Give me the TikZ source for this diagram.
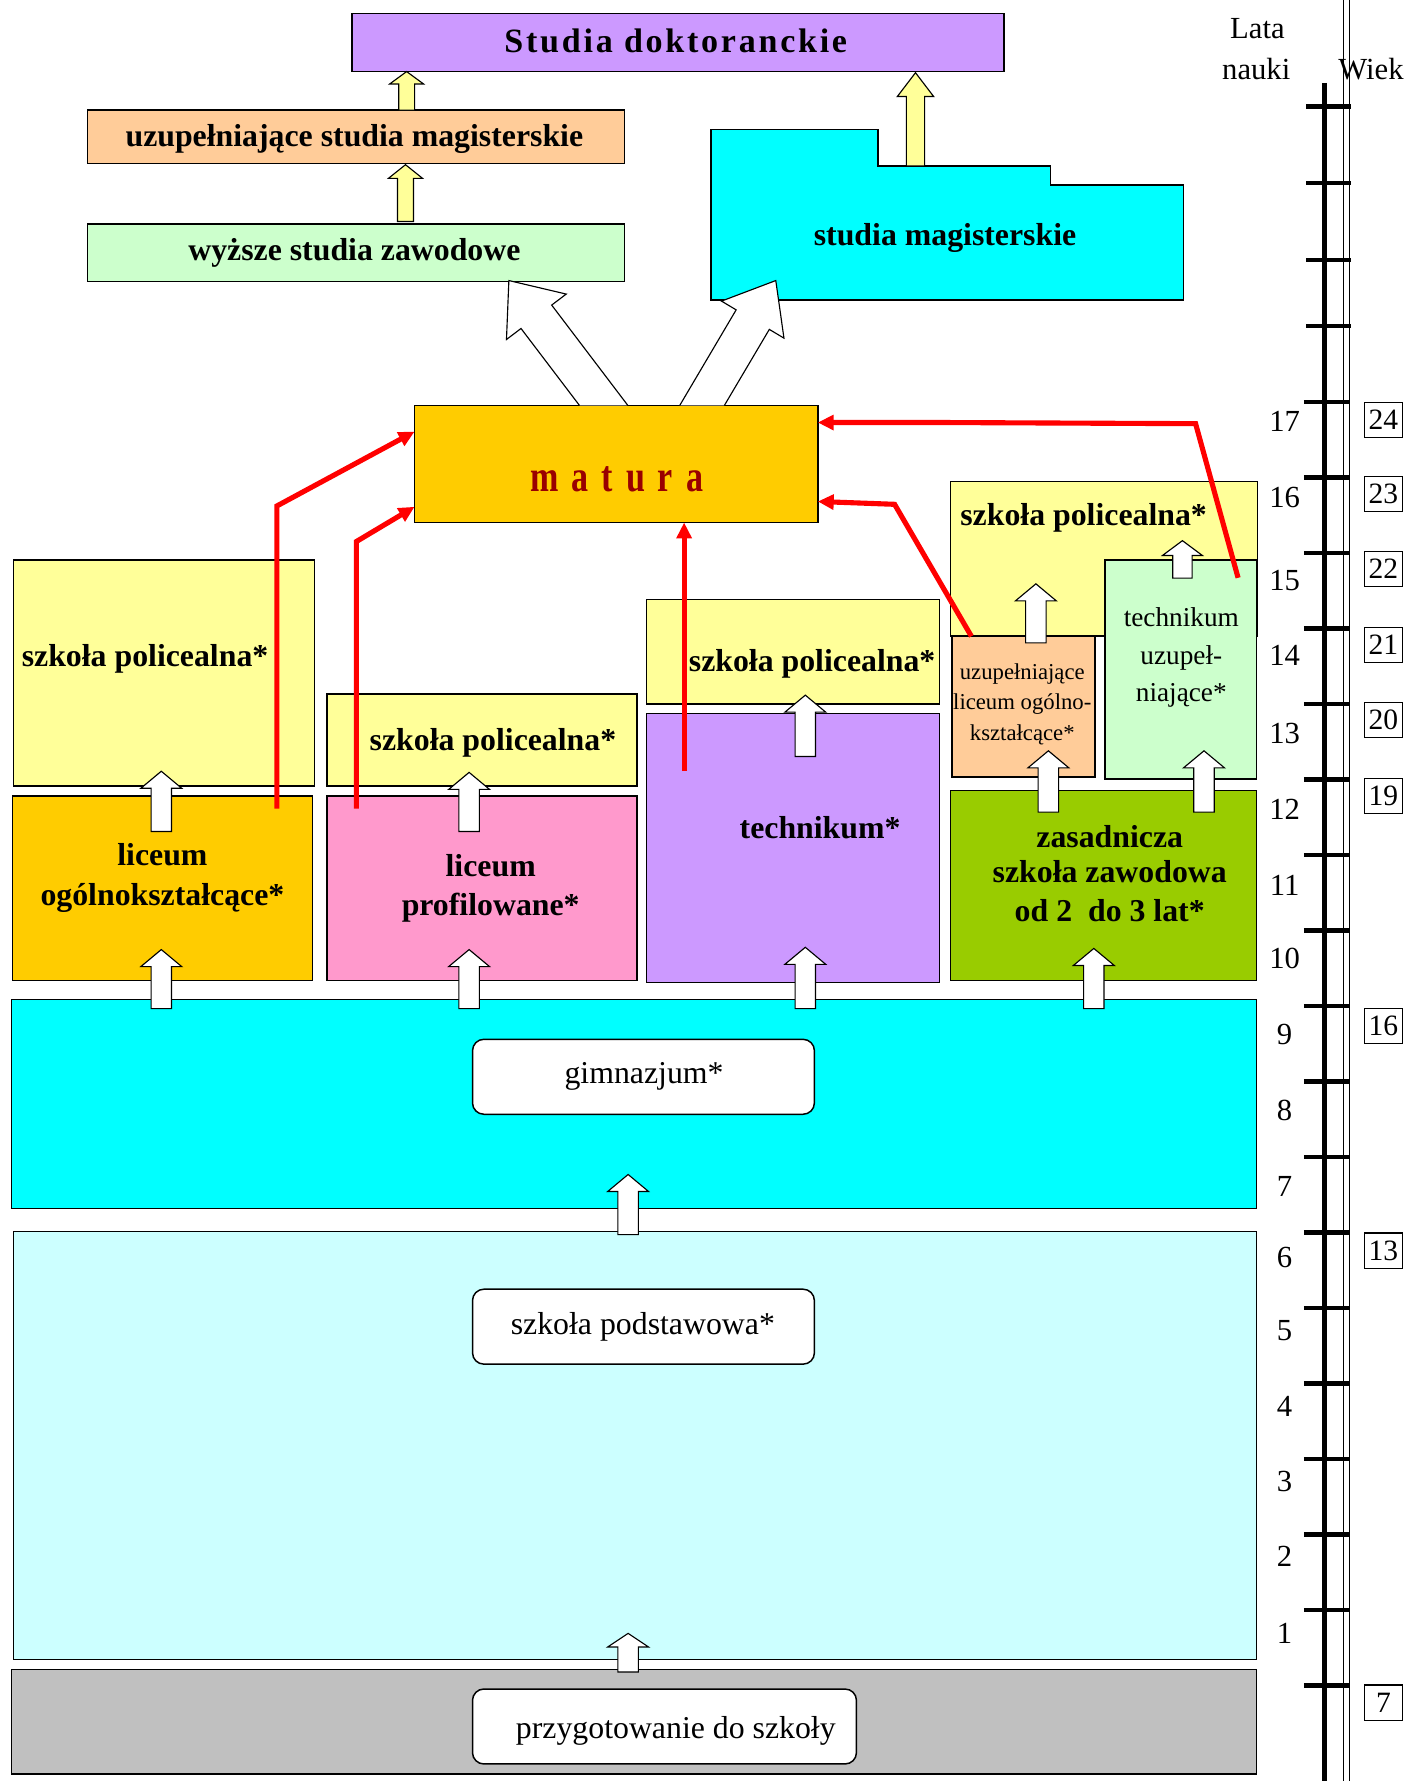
\documentclass[tikz,border=0pt]{standalone}
\usepackage{fontspec}
\usepackage{graphicx}
\setmainfont{Liberation Serif}
\usetikzlibrary{arrows.meta}
\definecolor{cLav}{HTML}{CC99FF}
\definecolor{cPeach}{HTML}{FFCC99}
\definecolor{cMint}{HTML}{CCFFCC}
\definecolor{cCyan}{HTML}{00FFFF}
\definecolor{cGold}{HTML}{FFCC00}
\definecolor{cLtYel}{HTML}{FFFF99}
\definecolor{cPink}{HTML}{FF99CC}
\definecolor{cOlive}{HTML}{99CC00}
\definecolor{cLtCyan}{HTML}{CCFFFF}
\definecolor{cGray}{HTML}{C0C0C0}
\definecolor{cMaroon}{HTML}{990000}
\definecolor{cRed}{HTML}{FF0000}
% style, x, ytail, ytip, halfshaft, halfhead, headlen
\newcommand{\varrow}[7]{%
  \draw[#1] ({#2-#5},#3) -- ({#2-#5},{#4+#7}) -- ({#2-#6},{#4+#7}) -- (#2,#4) -- ({#2+#6},{#4+#7}) -- ({#2+#5},{#4+#7}) -- ({#2+#5},#3) -- cycle;}
\begin{document}
\begin{tikzpicture}[x=1pt,y=-1pt,
  box/.style={draw=black, line width=1.3pt, inner sep=0pt, outer sep=0pt},
  inbox/.style={draw=black, line width=1.3pt, fill=white, rounded corners=10pt, inner sep=0pt, outer sep=0pt},
  bt/.style={font=\fontsize{28}{34}\selectfont\bfseries, inner sep=0pt, anchor=base},
  rt/.style={font=\fontsize{28}{34}\selectfont, inner sep=0pt, anchor=base},
  st/.style={font=\fontsize{20}{24}\selectfont, inner sep=0pt, anchor=base},
  mt/.style={font=\fontsize{24}{28}\selectfont, inner sep=0pt, anchor=base},
  numt/.style={font=\fontsize{27}{30}\selectfont, inner sep=0pt, anchor=base},
  agebox/.style={draw=black, line width=1pt, minimum width=33pt, minimum height=31pt, inner sep=0pt, font=\fontsize{26}{28}\selectfont},
  warr/.style={draw=black, line width=1pt, fill=white},
  yarr/.style={draw=black, line width=1pt, fill=cLtYel},
  redl/.style={draw=cRed, line width=4.5pt, line join=miter, -{Triangle[length=14pt,width=13pt]}},
  tick/.style={line width=4pt},
]
\useasboundingbox (0,0) rectangle (1239,1568);
\fill[white] (0,0) rectangle (1239,1568);

% ---------- top ----------
\node[box, fill=cLav, minimum width=574pt, minimum height=51pt] (doktor) at (597,37.5) {};
\node[bt, font=\fontsize{30}{34}\selectfont\bfseries\addfontfeature{LetterSpace=8}] (doktorT) at (595,46) {Studia doktoranckie};
\node[box, fill=cPeach, minimum width=473pt, minimum height=47pt] (uzsm) at (313.5,120.5) {};
\node[bt] (uzsmT) at (312,129) {uzupełniające studia magisterskie};
\node[box, fill=cMint, minimum width=473pt, minimum height=51pt] (wsz) at (313.5,222.5) {};
\node[bt] (wszT) at (312,229) {wyższe studia zawodowe};

\draw[box, fill=cCyan] (626,114) -- (773,114) -- (773,146) -- (925,146) -- (925,163) -- (1042,163) -- (1042,264) -- (626,264) -- cycle;
\node[bt] (stmagT) at (832,216) {studia magisterskie};

% ---------- matura ----------
\node[box, fill=cGold, minimum width=355pt, minimum height=103pt] (matura) at (542.5,408.5) {};
\node[bt, text=cMaroon, font=\fontsize{30}{34}\selectfont\bfseries\addfontfeature{LetterSpace=38}] (maturaT) at (543,433) {\scalebox{1}[1.3]{matura}};

% ---------- secondary ----------
\node[box, fill=cLtYel, minimum width=265pt, minimum height=199pt] (pol1) at (144.5,592.5) {};
\node[bt, anchor=base west] (pol1T) at (19,587) {szkoła policealna*};
\node[box, fill=cGold, minimum width=264pt, minimum height=162pt] (lo) at (143,782) {};
\node[bt] (lo1) at (143,762) {liceum};
\node[bt] (lo2) at (143,797) {ogólnokształcące*};

\node[box, fill=cLtYel, minimum width=273pt, minimum height=81pt] (pol2) at (424.5,651.5) {};
\node[bt] (pol2T) at (434,661) {szkoła policealna*};
\node[box, fill=cPink, minimum width=273pt, minimum height=162pt] (lp) at (424.5,782) {};
\node[bt] (lp1) at (432,772) {liceum};
\node[bt] (lp2) at (432,806) {profilowane*};

\node[box, fill=cLtYel, minimum width=258pt, minimum height=92pt] (pol3) at (698,574) {};
\node[bt] (pol3T) at (715,591) {szkoła policealna*};
\node[box, fill=cLav, minimum width=258pt, minimum height=237pt] (tech) at (698,746.5) {};
\node[bt] (techT) at (722,738) {technikum*};

\node[box, fill=cLtYel, minimum width=270pt, minimum height=136pt] (pol4) at (972,492) {};
\node[bt] (pol4T) at (954,463) {szkoła policealna*};
\node[box, fill=cPeach, minimum width=126pt, minimum height=124pt] (ulo) at (901,622) {};
\node[st] (ulo1) at (900,598) {uzupełniające};
\node[st] (ulo2) at (900,625) {liceum ogólno-};
\node[st] (ulo3) at (900,652) {kształcące*};
\node[box, fill=cMint, minimum width=133pt, minimum height=193pt] (tu) at (1039.5,589.5) {};
\node[mt] (tu1) at (1040,552) {technikum};
\node[mt] (tu2) at (1040,585) {uzupeł-};
\node[mt] (tu3) at (1040,618) {niające*};
\node[box, fill=cOlive, minimum width=269pt, minimum height=167pt] (zsz) at (971.5,779.5) {};
\node[bt] (zsz1) at (977,746) {zasadnicza};
\node[bt] (zsz2) at (977,777) {szkoła zawodowa};
\node[bt] (zsz3) at (977,811) {od 2\ \ do 3 lat*};

% ---------- lower ----------
\node[box, fill=cCyan, minimum width=1096pt, minimum height=184pt] (gim) at (558,972) {};
\node[inbox, minimum width=301pt, minimum height=66pt] (gimIn) at (566.5,948) {};
\node[rt] (gimT) at (567,954) {gimnazjum*};
\node[box, fill=cLtCyan, minimum width=1094pt, minimum height=377pt] (sp) at (559,1272.5) {};
\node[inbox, minimum width=301pt, minimum height=66pt] (spIn) at (566.5,1168) {};
\node[rt] (spT) at (566,1175) {szkoła podstawowa*};
\node[box, fill=cGray, minimum width=1096pt, minimum height=92pt] (prz) at (558,1516) {};
\node[inbox, minimum width=338pt, minimum height=66pt] (przIn) at (585,1520) {};
\node[rt] (przT) at (595,1531) {przygotowanie do szkoły};

% ---------- small block arrows ----------
\varrow{yarr}{358}{97}{63}{7}{15}{11}
\varrow{yarr}{357}{195}{145}{7}{15}{12}
\varrow{yarr}{806}{146}{64}{8}{16}{21}
\varrow{warr}{142}{888}{836}{9}{18}{15}
\varrow{warr}{413}{888}{836}{9}{18}{15}
\varrow{warr}{709}{888}{834}{9}{18}{15}
\varrow{warr}{963}{888}{835}{9}{18}{15}
\varrow{warr}{142}{732}{679}{9}{18}{15}
\varrow{warr}{413}{732}{680}{9}{18}{15}
\varrow{warr}{709}{666}{612}{9}{18}{15}
\varrow{warr}{923}{715}{661}{9}{18}{15}
\varrow{warr}{1060}{715}{661}{9}{18}{15}
\varrow{warr}{912}{566}{514}{9}{18}{15}
\varrow{warr}{1041}{509}{476}{8.5}{17.5}{13}
\varrow{warr}{553}{1087}{1034}{9}{18}{15}
\varrow{warr}{553}{1472}{1438}{9}{18}{12}

% ---------- big hollow arrows ----------
\draw[warr] (510.2,357) -- (458.7,289.2) -- (445.9,298.9) -- (448,247) -- (498.5,258.9) -- (485.7,268.6) -- (552.8,357);
\draw[warr] (598.4,357) -- (648.1,272.8) -- (635.2,265.1) -- (683,247) -- (690.2,297.7) -- (677.3,290.0) -- (637.7,357);

% ---------- red connectors ----------
\coordinate (r1s) at (243.7,712);
\coordinate (r2s) at (313.7,712);
\coordinate (r3s) at (602.3,679);
\coordinate (r4s) at (855.2,560.2);
\coordinate (r5s) at (1090,508.7);
\draw[redl] (r1s) -- (243.7,445.5) -- ([yshift=28.5pt]matura.west);
\draw[redl] (r2s) -- (313.7,476.8) -- ([yshift=-37.7pt]matura.west);
\draw[redl] (r3s) -- ([xshift=59.8pt]matura.south);
\draw[redl] (r4s) -- (787.6,444) -- ([yshift=-33pt]matura.east);
\draw[redl] (r5s) -- (1052.6,373) -- (833,372) -- ([yshift=36.5pt]matura.east);

% ---------- scale ----------
\draw[line width=0.9pt] (1183,0) -- (1183,1568);
\draw[line width=0.9pt] (1188,0) -- (1188,1568);
\draw[line width=5pt] (1166,73) -- (1166,1568);
\foreach \y in {94,161,229,287} \draw[tick] (1150,\y) -- (1189,\y);
\foreach \i in {0,...,17} \draw[tick] (1148,{354+\i*66.47}) -- (1188,{354+\i*66.47});
\foreach \n/\y in {17/370,16/437,15/510,14/576,13/645,12/712,11/779,10/843,9/910,8/977,7/1044,6/1106,5/1171,4/1238,3/1304,2/1370,1/1437}
  \node[numt] (num\n) at (1131,{\y+9.5}) {\n};
\foreach \a/\y in {24/369.5,23/435,22/501,21/568,20/634,19/701,16/903.5,13/1101,7/1499}
  \node[agebox] (age\a) at (1218,\y) {\a};
\node[numt] (lata) at (1107,34) {Lata};
\node[numt] (nauki) at (1106,70) {nauki};
\node[numt] (wiek) at (1207,70) {Wiek};
\end{tikzpicture}
\end{document}
